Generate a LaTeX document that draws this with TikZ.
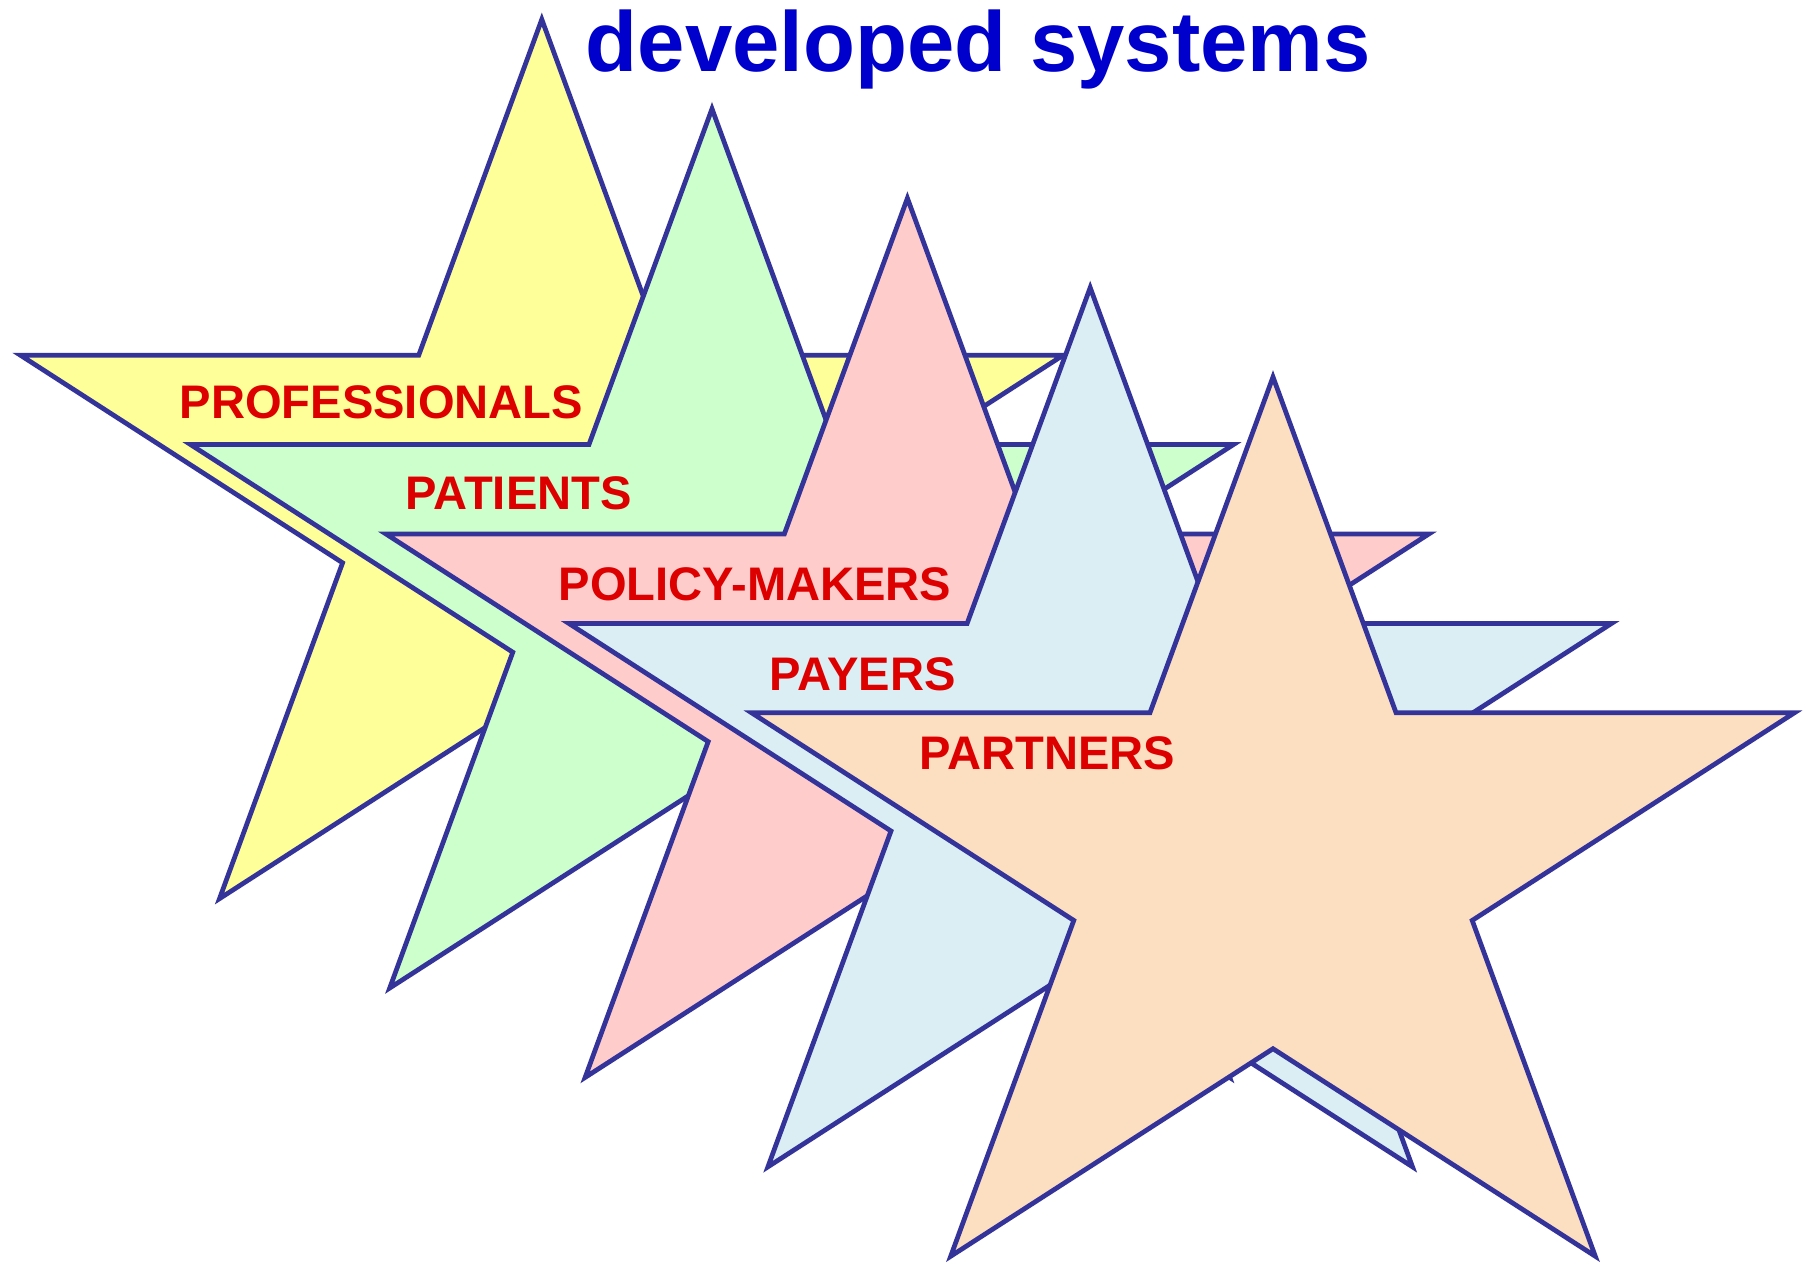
\documentclass[tikz,border=0pt]{standalone}
\usepackage{fontspec}
\setmainfont{Liberation Sans}
\definecolor{outl}{HTML}{333399}
\definecolor{cyel}{HTML}{FFFF99}
\definecolor{cgrn}{HTML}{CCFFCC}
\definecolor{cpnk}{HTML}{FFCCCC}
\definecolor{cblu}{HTML}{DBEEF4}
\definecolor{cpch}{HTML}{FCDEC1}
\definecolor{ttl}{HTML}{0000CC}
\definecolor{lbl}{HTML}{DD0000}
\begin{document}
\begin{tikzpicture}[x=0.01cm,y=-0.01cm,
  starline/.style={draw=outl,line width=1.35pt,line join=miter},
  lab/.style={anchor=base west,inner sep=0pt,text=lbl,font=\fontsize{13.4}{16}\selectfont\bfseries},
  titlestyle/.style={anchor=base west,inner sep=0pt,text=ttl,font=\fontsize{24.2}{29}\selectfont\bfseries}]
\useasboundingbox[fill=white] (0,0) rectangle (1808,1262);
\foreach \cx/\cy/\col in {541.8/505.4/cyel,712/594.8/cgrn,907.4/684.2/cpnk,1090.2/773.6/cblu,1273/863/cpch}{
  \begin{scope}[shift={(\cx,\cy)},xscale=1.128]
    \draw[starline,fill=\col] (0,-486) -- (109.1,-150.2) -- (462.2,-150.2) -- (176.6,57.4)
      -- (285.7,393.2) -- (0,185.7) -- (-285.7,393.2) -- (-176.6,57.4)
      -- (-462.2,-150.2) -- (-109.1,-150.2) -- cycle;
  \end{scope}
}
\node[titlestyle] (title) at (585,71.5) {developed systems};
\node[lab] (prof) at (179,418.6) {PROFESSIONALS};
\node[lab] (pat) at (405,509.7) {PATIENTS};
\node[lab] (pol) at (558,600.8) {POLICY-MAKERS};
\node[lab] (pay) at (769,690.7) {PAYERS};
\node[lab] (part) at (919,769) {PARTNERS};
\end{tikzpicture}
\end{document}
